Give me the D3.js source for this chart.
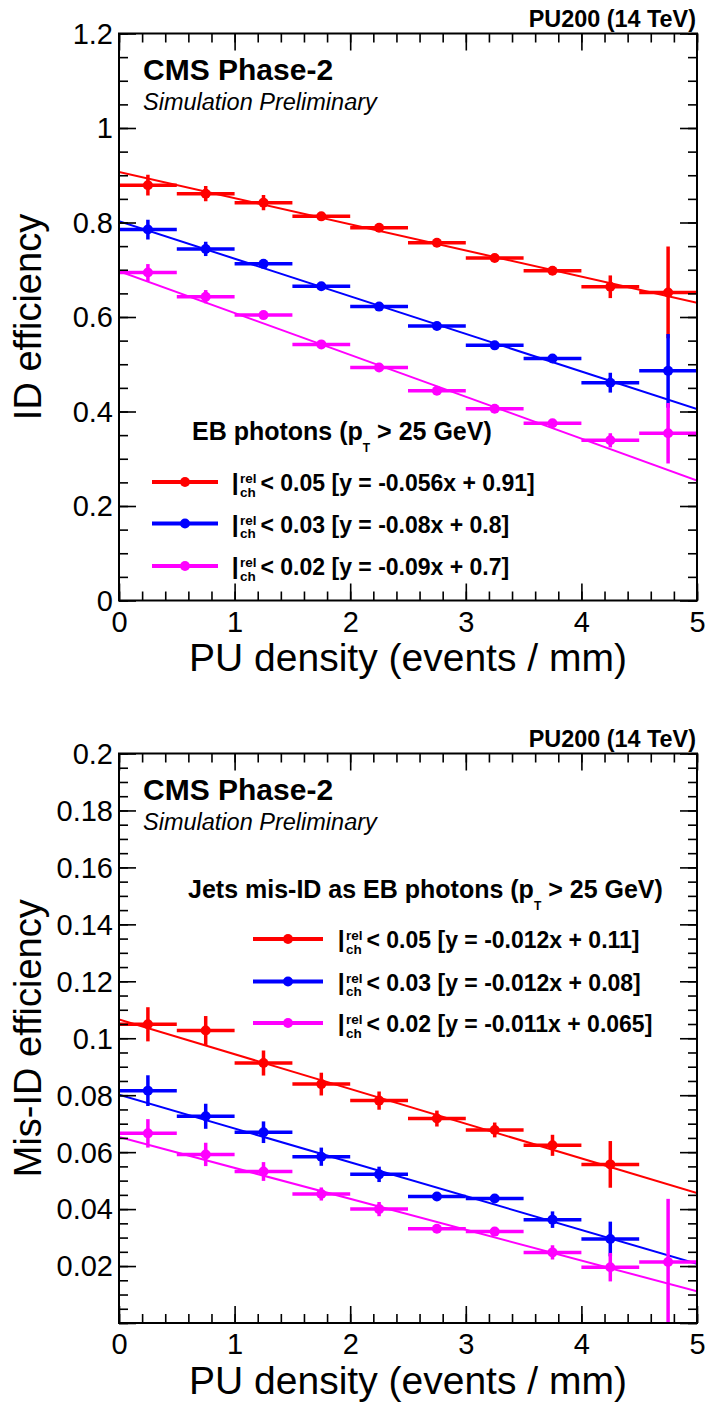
<!DOCTYPE html>
<html>
<head>
<meta charset="utf-8">
<script src="https://cdn.jsdelivr.net/npm/d3@7"></script>
<style>
  html, body { margin: 0; padding: 0; background: #fff; }
  svg { display: block; font-family: "Liberation Sans", Arial, Helvetica, sans-serif; }
</style>
</head>
<body>
<svg id="chart" width="705" height="1403"></svg>
<script>
// PU density bins (events / mm)
const binCenters = [0.25, 0.75, 1.25, 1.75, 2.25, 2.75, 3.25, 3.75, 4.25, 4.75];
const binHalfWidth = 0.25;

// ID efficiency, EB photons (pT > 25 GeV)
const idIso05 = [0.879, 0.861, 0.842, 0.813, 0.789, 0.757, 0.725, 0.698, 0.664, 0.652];
const idIso05Err = [0.022, 0.016, 0.016, 0.004, 0.004, 0.004, 0.004, 0.004, 0.024, 0.097];
const idIso03 = [0.785, 0.744, 0.7125, 0.665, 0.622, 0.581, 0.540, 0.512, 0.461, 0.486];
const idIso03Err = [0.021, 0.015, 0.005, 0.004, 0.004, 0.004, 0.004, 0.004, 0.021, 0.078];
const idIso02 = [0.694, 0.643, 0.604, 0.542, 0.493, 0.444, 0.406, 0.375, 0.339, 0.354];
const idIso02Err = [0.018, 0.014, 0.005, 0.004, 0.004, 0.004, 0.004, 0.004, 0.015, 0.064];
// fitted lines, value at x = 0 and x = 5
const idFits = [[0.907, 0.630], [0.803, 0.405], [0.697, 0.254]];

// mis-ID efficiency, jets as EB photons
const misIso05 = [0.1049, 0.1027, 0.0913, 0.0839, 0.0781, 0.0718, 0.0678, 0.0624, 0.0557, null];
const misIso05Err = [0.0060, 0.0051, 0.0044, 0.0040, 0.0032, 0.0028, 0.0026, 0.0037, 0.0082, null];
const misIso03 = [0.0816, 0.0726, 0.0670, 0.0584, 0.0522, 0.0444, 0.0437, 0.0363, 0.0295, null];
const misIso03Err = [0.0054, 0.0044, 0.0038, 0.0032, 0.0027, 0.0010, 0.0010, 0.0029, 0.0061, null];
const misIso02 = [0.0666, 0.0592, 0.0532, 0.0453, 0.0400, 0.0331, 0.0321, 0.0248, 0.0196, 0.0214];
const misIso02Err = [0.0050, 0.0041, 0.0033, 0.0023, 0.0025, 0.0010, 0.0010, 0.0025, 0.0050, 0.0222];
const misFits = [[0.1066, 0.0456], [0.0802, 0.0208], [0.0653, 0.0111]];

const colors = ["#ff0000", "#0000ff", "#ff00ff"];
const cutLabels = ["< 0.05", "< 0.03", "< 0.02"];
const idFitLabels = ["[y = -0.056x + 0.91]", "[y = -0.08x + 0.8]", "[y = -0.09x + 0.7]"];
const misFitLabels = ["[y = -0.012x + 0.11]", "[y = -0.012x + 0.08]", "[y = -0.011x + 0.065]"];

const svg = d3.select("#chart");
svg.append("rect").attr("width", 705).attr("height", 1403).attr("fill", "#fff");

const fmt = d3.format("~g");
const frameLeft = 119;
const frameRight = 697;

drawPanel({
  id: "top",
  top: 33.5,
  bottom: 600.5,
  yDomain: [0, 1.2],
  yMajor: 0.2,
  yMinor: 0.05,
  showZero: true,
  yTitle: "ID efficiency",
  series: [[idIso05, idIso05Err], [idIso03, idIso03Err], [idIso02, idIso02Err]],
  fits: idFits,
  header: "EB photons (p",
  headerX: 192,
  headerY: 440,
  legendLine: [152, 218],
  legendText: 232,
  legendRows: [482, 523.5, 566],
  fitLabels: idFitLabels
});

drawPanel({
  id: "bottom",
  top: 753.5,
  bottom: 1323,
  yDomain: [0, 0.2],
  yMajor: 0.02,
  yMinor: 0.005,
  showZero: false,
  yTitle: "Mis-ID efficiency",
  series: [[misIso05, misIso05Err], [misIso03, misIso03Err], [misIso02, misIso02Err]],
  fits: misFits,
  header: "Jets mis-ID as EB photons (p",
  headerX: 188,
  headerY: 898,
  legendLine: [253, 323],
  legendText: 338,
  legendRows: [939, 981.5, 1023],
  fitLabels: misFitLabels
});

function drawPanel(cfg) {
  const g = svg.append("g").attr("class", "panel-" + cfg.id);
  const x = d3.scaleLinear().domain([0, 5]).range([frameLeft, frameRight]);
  const y = d3.scaleLinear().domain(cfg.yDomain).range([cfg.bottom, cfg.top]);
  const off = cfg.top - 33.5;

  g.append("clipPath").attr("id", "clip-" + cfg.id)
    .append("rect")
    .attr("x", frameLeft).attr("y", cfg.top)
    .attr("width", frameRight - frameLeft).attr("height", cfg.bottom - cfg.top);

  const plot = g.append("g").attr("clip-path", `url(#clip-${cfg.id})`);

  // fit lines
  plot.selectAll("line.fit")
    .data(cfg.fits)
    .join("line")
    .attr("class", "fit")
    .attr("x1", x(0)).attr("x2", x(5))
    .attr("y1", (d) => y(d[0])).attr("y2", (d) => y(d[1]))
    .attr("stroke", (d, i) => colors[i])
    .attr("stroke-width", 2);

  // error bars + markers
  cfg.series.forEach(([vals, errs], si) => {
    const pts = binCenters
      .map((c, i) => ({ x: c, v: vals[i], e: errs[i] }))
      .filter((d) => d.v != null);
    const s = plot.append("g").attr("stroke", colors[si]).attr("fill", colors[si]);
    s.selectAll("line.h")
      .data(pts)
      .join("line")
      .attr("x1", (d) => x(d.x - binHalfWidth)).attr("x2", (d) => x(d.x + binHalfWidth))
      .attr("y1", (d) => y(d.v)).attr("y2", (d) => y(d.v))
      .attr("stroke-width", 3.5);
    s.selectAll("line.v")
      .data(pts)
      .join("line")
      .attr("x1", (d) => x(d.x)).attr("x2", (d) => x(d.x))
      .attr("y1", (d) => y(d.v - d.e)).attr("y2", (d) => y(d.v + d.e))
      .attr("stroke-width", 3.5);
    s.selectAll("circle")
      .data(pts)
      .join("circle")
      .attr("cx", (d) => x(d.x)).attr("cy", (d) => y(d.v))
      .attr("r", 5).attr("stroke", "none");
  });

  // frame
  g.append("rect")
    .attr("x", frameLeft).attr("y", cfg.top)
    .attr("width", frameRight - frameLeft).attr("height", cfg.bottom - cfg.top)
    .attr("fill", "none").attr("stroke", "#000").attr("stroke-width", 2);

  const xMajor = d3.range(0, 6);
  const xMinor = d3.range(0, 26).map((i) => i * 0.2);
  const nMinor = Math.round((cfg.yDomain[1] - cfg.yDomain[0]) / cfg.yMinor);
  const yMinor = d3.range(0, nMinor + 1).map((i) => +(i * cfg.yMinor).toFixed(4));
  const yMajor = yMinor.filter((d, i) => i % Math.round(cfg.yMajor / cfg.yMinor) === 0);

  const axes = [
    [d3.axisBottom(x).tickValues(xMajor).tickSize(-17).tickPadding(10.5).tickFormat(fmt), `translate(0,${cfg.bottom})`, "xb"],
    [d3.axisBottom(x).tickValues(xMinor).tickSize(-9).tickFormat(""), `translate(0,${cfg.bottom})`, "m"],
    [d3.axisTop(x).tickValues(xMajor).tickSize(-17).tickFormat(""), `translate(0,${cfg.top})`, "m"],
    [d3.axisTop(x).tickValues(xMinor).tickSize(-9).tickFormat(""), `translate(0,${cfg.top})`, "m"],
    [d3.axisLeft(y).tickValues(yMajor).tickSize(-17).tickPadding(6)
      .tickFormat((d) => (d === 0 && !cfg.showZero ? "" : fmt(d))), `translate(${frameLeft},0)`, "yl"],
    [d3.axisLeft(y).tickValues(yMinor).tickSize(-9).tickFormat(""), `translate(${frameLeft},0)`, "m"],
    [d3.axisRight(y).tickValues(yMajor).tickSize(-17).tickFormat(""), `translate(${frameRight},0)`, "m"],
    [d3.axisRight(y).tickValues(yMinor).tickSize(-9).tickFormat(""), `translate(${frameRight},0)`, "m"]
  ];
  axes.forEach(([ax, tr, kind]) => {
    const a = g.append("g").attr("transform", tr).call(ax.tickSizeOuter(0));
    a.select(".domain").remove();
    a.selectAll("line").attr("stroke", "#000").attr("stroke-width", 1.6);
    a.selectAll("text")
      .attr("font-family", "Liberation Sans, Arial, sans-serif")
      .attr("font-size", 29)
      .attr("fill", "#000");
    if (kind === "yl") a.selectAll("text").attr("dy", "0.34em");
  });

  // axis titles
  g.append("text")
    .attr("x", (frameLeft + frameRight) / 2).attr("y", cfg.bottom + 70.5)
    .attr("text-anchor", "middle").attr("font-size", 39)
    .text("PU density (events / mm)");
  g.append("text")
    .attr("transform", `translate(41,${(cfg.top + cfg.bottom) / 2}) rotate(-90)`)
    .attr("text-anchor", "middle").attr("font-size", 38)
    .text(cfg.yTitle);

  // labels
  g.append("text")
    .attr("x", 696).attr("y", 26.7 + off)
    .attr("text-anchor", "end").attr("font-size", 23.4).attr("font-weight", "bold")
    .text("PU200 (14 TeV)");
  g.append("text")
    .attr("x", 143).attr("y", 80 + off)
    .attr("font-size", 30).attr("font-weight", "bold")
    .text("CMS Phase-2");
  g.append("text")
    .attr("x", 143).attr("y", 110 + off)
    .attr("font-size", 23.5).attr("font-style", "italic")
    .text("Simulation Preliminary");

  // legend header
  const hdr = g.append("text")
    .attr("x", cfg.headerX).attr("y", cfg.headerY)
    .attr("font-size", 25).attr("font-weight", "bold");
  hdr.append("tspan").text(cfg.header);
  hdr.append("tspan").attr("font-size", 12).attr("dy", 12).text("T");
  hdr.append("tspan").attr("font-size", 25).attr("dy", -12).text(" > 25 GeV)");

  // legend entries
  cfg.legendRows.forEach((ly, i) => {
    const [lx1, lx2] = cfg.legendLine;
    g.append("line")
      .attr("x1", lx1).attr("x2", lx2).attr("y1", ly).attr("y2", ly)
      .attr("stroke", colors[i]).attr("stroke-width", 4);
    g.append("circle")
      .attr("cx", (lx1 + lx2) / 2).attr("cy", ly).attr("r", 5)
      .attr("fill", colors[i]);
    const tx = cfg.legendText;
    const base = ly + 9;
    // the "I" is drawn taller than the rest, as in the ROOT latex
    g.append("text")
      .attr("transform", `translate(${tx},${base + 4}) scale(1,1.4)`)
      .attr("font-size", 23).attr("font-weight", "bold").text("I");
    g.append("text").attr("x", tx + 8).attr("y", base - 7.7)
      .attr("font-size", 13.5).attr("font-weight", "bold").text("rel");
    g.append("text").attr("x", tx + 8).attr("y", base + 5.7)
      .attr("font-size", 13.5).attr("font-weight", "bold").text("ch");
    g.append("text").attr("x", tx + 28.5).attr("y", base)
      .attr("font-size", 23).attr("font-weight", "bold")
      .text(`${cutLabels[i]} ${cfg.fitLabels[i]}`);
  });
}
</script>
</body>
</html>
